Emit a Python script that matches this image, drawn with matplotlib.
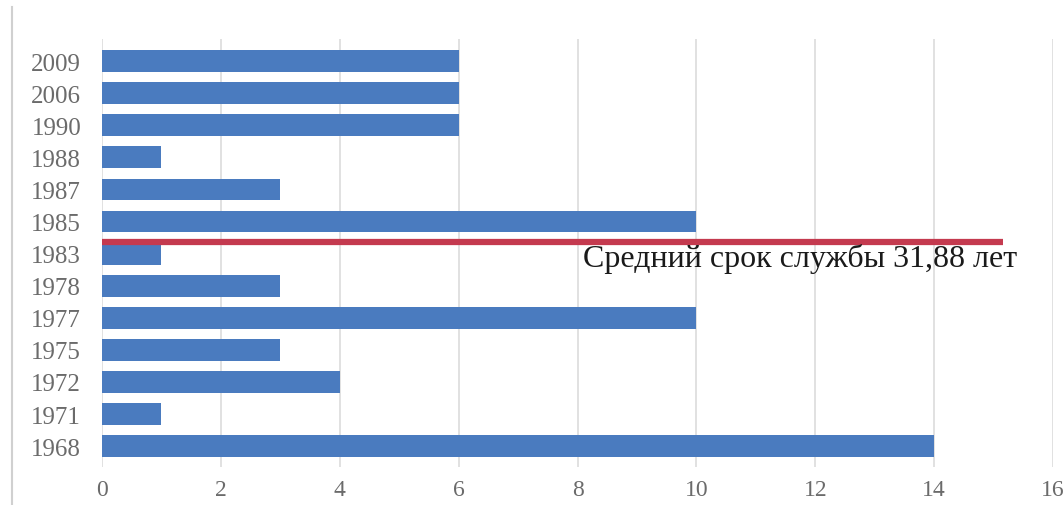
import matplotlib
matplotlib.use('Agg')
import matplotlib.pyplot as plt
from matplotlib.lines import Line2D

# years of commissioning and number of units per year (top to bottom as shown)
years = ['2009', '2006', '1990', '1988', '1987', '1985', '1983',
         '1978', '1977', '1975', '1972', '1971', '1968']
counts = [6, 6, 6, 1, 3, 10, 1, 3, 10, 3, 4, 1, 14]

# average service life marker
avg_label = 'Средний срок службы 31,88 лет'
avg_line_len = 15.15
avg_line_pos = 6.36

plt.rcParams['font.family'] = ['Liberation Serif', 'DejaVu Serif']

fig = plt.figure(figsize=(10.64, 5.06), dpi=100)
ax = fig.add_axes([0.0959, 0.0751, 0.8938, 0.8458])

# plot bottom to top so the first year ends up on top
ypos = list(range(len(years)))
ax.barh(ypos, counts[::-1], height=0.68, color='#4a7bbf', zorder=3)

# red line for the average service life
ax.plot([0, avg_line_len], [avg_line_pos, avg_line_pos], color='#c43a4f',
        linewidth=4.5, solid_capstyle='butt', zorder=4)
ax.text(8.1, avg_line_pos - 0.5, avg_label, fontsize=23, color='#1a1a1a',
        ha='left', va='center', zorder=5)

ax.set_xlim(0, 16)
ax.set_ylim(-0.65, 12.69)
ax.set_xticks(range(0, 17, 2))
ax.set_yticks(ypos)
ax.set_yticklabels(years[::-1])
ax.tick_params(axis='both', length=0, labelsize=18, labelcolor='#6b6b6b')
ax.tick_params(axis='x', pad=9, labelsize=17)
ax.tick_params(axis='y', pad=15)

ax.grid(axis='x', color='#dcdcdc', linewidth=1.2, zorder=0)
for s in ax.spines.values():
    s.set_visible(False)

# chart area border on the left
fig.add_artist(Line2D([0.0113, 0.0113], [0.0, 0.985], color='#d0d0d0',
                      linewidth=1.5, transform=fig.transFigure))

plt.savefig('out.png', dpi=100)
